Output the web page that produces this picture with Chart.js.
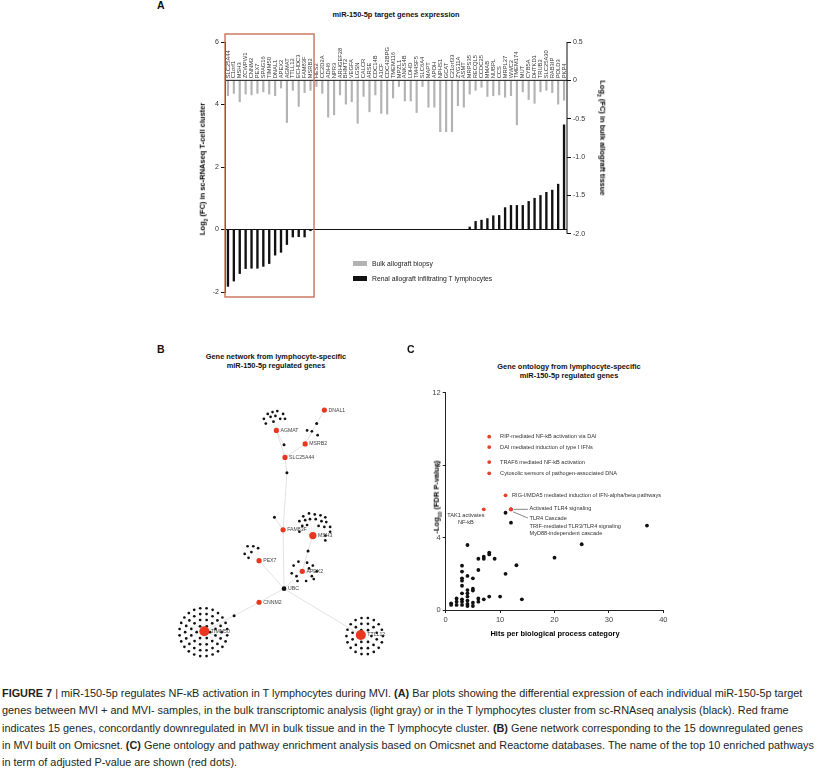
<!DOCTYPE html>
<html>
<head>
<meta charset="utf-8">
<title>Figure 7</title>
<script src="https://cdn.jsdelivr.net/npm/chart.js@4.4.1/dist/chart.umd.min.js"></script>
<style>
  html, body { margin: 0; padding: 0; background: #fff; }
  body { position: relative; width: 831px; height: 769px; overflow: hidden;
         font-family: "Liberation Sans", Arial, sans-serif; color: #222; }
  .abs { position: absolute; }
  .letter { font-weight: bold; font-size: 10.5px; line-height: 10px; color: #111; }
  .ttl { font-weight: bold; font-size: 7.4px; line-height: 9px; text-align: center; color: #111;
         white-space: nowrap; transform: translateX(-50%); }
  .axt { font-weight: bold; font-size: 7.5px; white-space: nowrap; line-height: 9px; color: #000; }
  .leg { font-size: 6.8px; line-height: 8px; white-space: nowrap; }
  .sw { position: absolute; width: 14px; height: 5px; }
  #caption { left: 2px; top: 685px; font-family: "Liberation Sans Narrow", "Liberation Sans", Arial, sans-serif;
             font-size: 11.5px; line-height: 17.3px; white-space: pre; color: #231f20; transform-origin: 0 0; }
</style>
</head>
<body>

<!-- panel A -->
<div class="abs letter" style="left:157px;top:0px">A</div>
<div class="abs ttl" style="left:396px;top:9.5px">miR-150-5p target genes expression</div>
<div class="abs" style="left:195px;top:30px;width:425px;height:280px">
  <canvas id="barChart" width="425" height="280"></canvas>
</div>
<div class="abs axt" style="left:204px;top:169px;transform:translate(-50%,-50%) rotate(-90deg)">Log<sub style="font-size:5px">2</sub> (FC) in sc-RNAseq T-cell cluster</div>
<div class="abs axt" style="left:601px;top:138px;transform:translate(-50%,-50%) rotate(90deg)">Log<sub style="font-size:5px">2</sub> (FC) in bulk allograft tissue</div>
<div class="sw" style="left:353px;top:261px;background:#b3b3b3"></div>
<div class="abs leg" style="left:372px;top:260px">Bulk allograft biopsy</div>
<div class="sw" style="left:353px;top:276px;background:#111"></div>
<div class="abs leg" style="left:372px;top:275px">Renal allograft infiltrating T lymphocytes</div>

<!-- panel B -->
<div class="abs letter" style="left:157px;top:344px">B</div>
<div class="abs ttl" style="left:276px;top:352px">Gene network from lymphocyte-specific<br>miR-150-5p regulated genes</div>
<div class="abs" style="left:160px;top:380px;width:250px;height:290px">
  <canvas id="netChart" width="250" height="290"></canvas>
</div>

<!-- panel C -->
<div class="abs letter" style="left:407px;top:344px">C</div>
<div class="abs ttl" style="left:569px;top:361.5px">Gene ontology from lymphocyte-specific<br>miR-150-5p regulated genes</div>
<div class="abs" style="left:420px;top:380px;width:260px;height:252px">
  <canvas id="goChart" width="260" height="252"></canvas>
</div>
<div class="abs axt" style="left:438px;top:497px;transform:translate(-50%,-50%) rotate(-90deg)">-Log<sub style="font-size:5px">10</sub> (FDR P-value)</div>
<div class="abs axt" style="left:555px;top:633px;transform:translate(-50%,-50%)">Hits per biological process category</div>

<!-- caption -->
<div id="caption" class="abs"><div id="capLine1"><b>FIGURE 7</b> | miR-150-5p regulates NF-κB activation in T lymphocytes during MVI. <b>(A)</b> Bar plots showing the differential expression of each individual miR-150-5p target</div><div>genes between MVI + and MVI- samples, in the bulk transcriptomic analysis (light gray) or in the T lymphocytes cluster from sc-RNAseq analysis (black). Red frame</div><div>indicates 15 genes, concordantly downregulated in MVI in bulk tissue and in the T lymphocyte cluster. <b>(B)</b> Gene network corresponding to the 15 downregulated genes</div><div>in MVI built on Omicsnet. <b>(C)</b> Gene ontology and pathway enrichment analysis based on Omicsnet and Reactome databases. The name of the top 10 enriched pathways</div><div>in term of adjusted P-value are shown (red dots).</div></div>

<script>
// ---------- panel A data ----------
const genes = ['SLC25A44','C1orf1','MSH3','ZCWPW1','CNNM2','PEX7','SPAG16','TIMM50','DNAL1','APEX2',
  'AGMAT','TTLL12','ECHDC3','FAM83F','MSRB2','HES2','CC2D2A','ADH6','NPR3','ARHGEF28',
  'BHMT2','VEGFA','LGSN','CALCR','ARSE','CDC14B','A1CF','CDC42BPG','TMEM116','MPZL1',
  'ANKS4B','LDHD','TM4SF5','SLC6A4','MAPT','APOH','NPHS1','GCAT','C21orf33','ZYG11A',
  'ASMT','MRPS35','RECQL5','CCDC25','MMAB','NUBPL','CCS','MRPL27','WWC2','TMEM174',
  'MUT','CYB5A','DHTKD1','TRUB2','SLC25A30','RAB3IP','POLD3','PKP4'];

// log2 FC in bulk tissue (right axis, gray)
const bulkFC = [-0.20,-0.17,-0.28,-0.18,-0.19,-0.17,-0.15,-0.18,-0.20,-0.10,
  -0.55,-0.13,-0.34,-0.16,-0.13,-0.08,-0.17,-0.48,-0.45,-0.19,
  -0.31,-0.28,-0.56,-0.21,-0.41,-0.19,-0.43,-0.44,-0.23,-0.08,
  -0.27,-0.27,-0.42,-0.08,-0.35,-0.35,-0.67,-0.67,-0.67,-0.33,
  -0.35,-0.18,-0.13,-0.09,-0.21,-0.20,-0.19,-0.22,-0.20,-0.58,
  -0.15,-0.25,-0.30,-0.15,-0.13,-0.16,-0.31,-0.26];

// log2 FC in the sc-RNAseq T-cell cluster (left axis, black)
const scFC = [-1.82,-1.65,-1.41,-1.25,-1.24,-1.24,-1.18,-1.09,-0.82,-0.73,
  -0.48,-0.24,-0.23,-0.24,-0.04, 0,0,0,0,0,
  0,0,0,0,0,0,0,0,0,0,
  0,0,0,0,0,0,0,0,0,0,
  0, 0.08,0.26,0.30,0.35,0.44,0.45,0.70,0.77,0.77,
  0.77,0.90,1.00,1.09,1.19,1.26,1.45,3.35];

const scTicks = [-2, 0, 2, 4, 6];
const bulkTicks = [0.5, 0, -0.5, -1.0, -1.5, -2.0];
const framedCount = 15;

// ---------- panel B data (Omicsnet layout coordinates) ----------
const netGenes   = ['DNAL1','AGMAT','MSRB2','SLC25A44','FAM83F','MSH3','PEX7','APEX2','CNNM2','TIMM50','TTLL12'];
const netGeneX   = [166, 116, 146, 125, 123, 154,  98, 143,  98,  41, 204];
const netGeneY   = [ 26,  47,  61,  75, 150, 156, 182, 193, 225, 255, 259];
const netDegree  = [  2,  11,   4,   4,   3,  20,   6,  12,   2,  60,  36];

const linkNames = ['UBC','L1','L2','L3','L4','L5','L6'];
const linkX     = [124, 127, 124, 158, 114, 149,  72];
const linkY     = [211,  91,  62,  40, 137, 172, 239];

const edges = [['UBC','FAM83F'],['FAM83F','L1'],['L1','SLC25A44'],['SLC25A44','AGMAT'],['AGMAT','L2'],
  ['SLC25A44','MSRB2'],['MSRB2','L3'],['L3','DNAL1'],['UBC','APEX2'],['APEX2','L5'],['L5','MSH3'],
  ['UBC','PEX7'],['UBC','CNNM2'],['CNNM2','L6'],['L6','TIMM50'],['UBC','TTLL12'],['FAM83F','L4']];

const agmatPartners = [[107,30],[112,28],[117,27],[123,30],[103,35],[110,33],[115,32],[120,35],[125,35],[105,40],[113,38]];
const msrb2Partners = [[148,47],[153,48],[159,52]];
const pex7Partners  = [[86,167],[92,167],[97,169],[83,175],[90,173],[87,179]];
const apex2Partners = [[134,187],[139,183],[148,184],[154,187],[132,195],[158,193],[137,198],[153,198],[138,203],[147,203],[155,201],[150,190]];
const msh3Partners  = [[144,136],[150,133],[156,134],[162,135],[167,137],[140,141],[146,140],[151,139],[157,139],[163,141],
  [168,142],[172,147],[143,146],[148,145],[160,146],[166,147],[172,152],[167,156],[167,161],[140,152]];
const timm50Partners = [[47,256],[43.5,262.1],[36.5,262.1],[33,256],[36.5,249.9],[43.5,249.9],
  [52.6,259.4],[49.2,265.2],[43.4,268.6],[36.6,268.6],[30.8,265.2],[27.4,259.4],[27.4,252.6],[30.8,246.8],[36.6,243.4],[43.4,243.4],[49.2,246.8],[52.6,252.6],
  [59,256],[57.9,262.5],[54.6,268.2],[49.5,272.5],[43.3,274.7],[36.7,274.7],[30.5,272.5],[25.4,268.2],[22.1,262.5],[21,256],[22.1,249.5],[25.4,243.8],[30.5,239.5],[36.7,237.3],[43.3,237.3],[49.5,239.5],[54.6,243.8],[57.9,249.5],
  [64.8,259.3],[63.1,265.6],[59.8,271.2],[55.2,275.8],[49.6,279.1],[43.3,280.8],[36.7,280.8],[30.4,279.1],[24.8,275.8],[20.2,271.2],[16.9,265.6],[15.2,259.3],
  [15.2,252.7],[16.9,246.4],[20.2,240.8],[24.8,236.2],[30.4,232.9],[36.7,231.2],[43.3,231.2],[49.6,232.9],[55.2,236.2],[59.8,240.8],[63.1,246.4],[64.8,252.7]];
const ttll12Partners = [[215,260],[211.5,266.1],[204.5,266.1],[201,260],[204.5,253.9],[211.5,253.9],
  [220.6,263.4],[217.2,269.2],[211.4,272.6],[204.6,272.6],[198.8,269.2],[195.4,263.4],[195.4,256.6],[198.8,250.8],[204.6,247.4],[211.4,247.4],[217.2,250.8],[220.6,256.6],
  [227,260],[225.9,266.5],[222.6,272.2],[217.5,276.5],[211.3,278.7],[204.7,278.7],[198.5,276.5],[193.4,272.2],[190.1,266.5],[189,260],[190.1,253.5],[193.4,247.8],[198.5,243.5],[204.7,241.3],[211.3,241.3],[217.5,243.5],[222.6,247.8],[225.9,253.5]];
const partnersOf = { AGMAT: agmatPartners, MSRB2: msrb2Partners, PEX7: pex7Partners, APEX2: apex2Partners,
  MSH3: msh3Partners, TIMM50: timm50Partners, TTLL12: ttll12Partners };

// ---------- panel C data ----------
const goHits = [11,12,37,25,4,3,3,3,3,3,4,5,6,6,7,7,8,8,9,11,13,20,3,4,4,4,5,5,3,2,2,2,1,1,3,3,4,4,4,5,5,6,6,7,8,10,14];
const goLogP = [5.37,4.82,4.66,3.63,3.59,2.45,2.12,1.75,1.62,1.34,1.88,1.75,2.83,2.21,2.94,2.83,3.17,3.07,2.83,2.00,2.47,2.89,
  0.92,1.10,0.92,0.74,1.18,1.07,0.59,0.64,0.46,0.28,0.37,0.28,0.46,0.28,0.52,0.33,0.22,0.40,0.22,0.64,0.46,0.59,0.74,0.74,0.59];
const topPathways = ['RIP-mediated NF-kB activation via DAI','DAI mediated induction of type I IFNs','TRAF6 mediated NF-kB activation',
  'Cytosolic sensors of pathogen-associated DNA','RIG-I/MDA5 mediated induction of IFN-alpha/beta pathways','TAK1 activates NF-kB',
  'Activated TLR4 signaling','TLR4 Cascade','TRIF-mediated TLR3/TLR4 signaling','MyD88-independent cascade'];
const topHits = [8, 8, 8, 8, 11, 7, 12, 12, 12, 12];
const topLogP = [9.57, 9.00, 8.17, 7.55, 6.33, 5.56, 5.56, 5.56, 5.56, 5.56];

// ---------- shared ----------
Chart.defaults.font.family = '"Liberation Sans", Arial, sans-serif';
Chart.defaults.color = '#333';
const FONT = '"Liberation Sans", Arial, sans-serif';

// ===== panel A =====
const barDecor = {
  id: 'barDecor',
  afterDatasetsDraw(chart) {
    const { ctx, chartArea: ca, scales: { x, y, y2 } } = chart;
    ctx.save();
    ctx.strokeStyle = '#111';
    ctx.lineWidth = 1;
    [y.getPixelForValue(0), y2.getPixelForValue(0)].forEach(py => {
      ctx.beginPath(); ctx.moveTo(ca.left, py); ctx.lineTo(ca.right, py); ctx.stroke();
    });
    // right spine only over the labelled range
    ctx.beginPath();
    ctx.moveTo(ca.right, y2.getPixelForValue(bulkTicks[0]));
    ctx.lineTo(ca.right, y2.getPixelForValue(bulkTicks[bulkTicks.length - 1]));
    ctx.stroke();

    // gene names standing on the bulk zero line
    ctx.fillStyle = '#333';
    ctx.font = '5.8px ' + FONT;
    ctx.textAlign = 'left';
    ctx.textBaseline = 'middle';
    const base = y2.getPixelForValue(0) - 2;
    genes.forEach((g, i) => {
      ctx.save();
      ctx.translate(x.getPixelForValue(i), base);
      ctx.rotate(-Math.PI / 2);
      ctx.fillText(g, 0, 0);
      ctx.restore();
    });

    // red frame around the concordant genes
    const step = x.getPixelForValue(1) - x.getPixelForValue(0);
    const left = x.getPixelForValue(0) - step / 2;
    const right = x.getPixelForValue(framedCount - 1) + step * 0.6;
    const top = y.getPixelForValue(6) - 8;
    const bottom = y.getPixelForValue(-2) + 5;
    ctx.strokeStyle = '#c8705a';
    ctx.lineWidth = 1.4;
    ctx.strokeRect(left, top, right - left, bottom - top);
    ctx.restore();
  }
};

new Chart(document.getElementById('barChart'), {
  type: 'bar',
  data: {
    labels: genes,
    datasets: [
      { label: 'Bulk allograft biopsy', data: bulkFC, yAxisID: 'y2', backgroundColor: '#b3b3b3', barThickness: 1.5, grouped: false },
      { label: 'Renal allograft infiltrating T lymphocytes', data: scFC, yAxisID: 'y', backgroundColor: '#111', barThickness: 1.7, grouped: false }
    ]
  },
  options: {
    responsive: false,
    animation: false,
    layout: { padding: { top: 12, bottom: 18, left: 0, right: 0 } },
    plugins: { legend: { display: false }, tooltip: { enabled: false } },
    scales: {
      x: { display: false, offset: true },
      y: {
        position: 'left', min: -2, max: 6,
        afterBuildTicks: s => { s.ticks = scTicks.map(v => ({ value: v })); },
        afterFit: s => { s.width = 30; },
        grid: { drawOnChartArea: false, drawTicks: true, tickLength: 4, color: '#111' },
        border: { display: true, color: '#111', width: 1 },
        ticks: { font: { size: 7 }, padding: 2, color: '#333' }
      },
      y2: {
        position: 'right', min: -2.76, max: 0.5,
        afterBuildTicks: s => { s.ticks = bulkTicks.map(v => ({ value: v })); },
        afterFit: s => { s.width = 53; },
        grid: { drawOnChartArea: false, drawTicks: true, tickLength: 4, color: '#111' },
        border: { display: false },
        ticks: { font: { size: 7 }, padding: 2, color: '#333', callback: v => v === 0 ? '0' : v.toFixed(1) }
      }
    }
  },
  plugins: [barDecor]
});

// ===== panel B =====
const nodePos = {};
netGenes.forEach((g, i) => { nodePos[g] = { x: netGeneX[i], y: netGeneY[i] }; });
linkNames.forEach((n, i) => { nodePos[n] = { x: linkX[i], y: linkY[i] }; });

const gap = { x: 0, y: null };
const edgePts = [];
edges.forEach(([a, b]) => { edgePts.push(nodePos[a], nodePos[b], gap); });
const spokePts = [];
const partnerPts = [];
Object.keys(partnersOf).forEach(hub => {
  partnersOf[hub].forEach(([px, py]) => {
    partnerPts.push({ x: px, y: py });
    spokePts.push(nodePos[hub], { x: px, y: py }, gap);
  });
});
const geneRadius = d => d >= 30 ? 5 : d >= 15 ? 3.6 : 2.6;

const netLabels = {
  id: 'netLabels',
  afterDatasetsDraw(chart) {
    const { ctx, scales: { x, y } } = chart;
    ctx.save();
    ctx.font = '5.2px ' + FONT;
    ctx.fillStyle = '#444';
    ctx.textAlign = 'left';
    ctx.textBaseline = 'middle';
    netGenes.forEach((g, i) => {
      ctx.fillText(g, x.getPixelForValue(netGeneX[i]) + geneRadius(netDegree[i]) + 1.5, y.getPixelForValue(netGeneY[i]));
    });
    ctx.fillText('UBC', x.getPixelForValue(linkX[0]) + 4, y.getPixelForValue(linkY[0]));
    ctx.restore();
  }
};

new Chart(document.getElementById('netChart'), {
  type: 'scatter',
  data: {
    datasets: [
      { label: 'genes', data: netGenes.map((g, i) => ({ x: netGeneX[i], y: netGeneY[i] })),
        backgroundColor: '#e8371e', borderWidth: 0, pointRadius: netDegree.map(geneRadius), order: 1 },
      { label: 'linkers', data: linkNames.map((n, i) => ({ x: linkX[i], y: linkY[i] })),
        backgroundColor: '#111', borderWidth: 0, pointRadius: linkNames.map(n => n === 'UBC' ? 2.4 : 1.5), order: 2 },
      { label: 'partners', data: partnerPts, backgroundColor: '#111', borderWidth: 0, pointRadius: 1.35, order: 2 },
      { label: 'edges', data: edgePts, showLine: true, spanGaps: false, borderColor: '#e2e2e2', borderWidth: 1, pointRadius: 0, order: 3 },
      { label: 'spokes', data: spokePts, showLine: true, spanGaps: false, borderColor: '#f1f1f1', borderWidth: 0.6, pointRadius: 0, order: 4 }
    ]
  },
  options: {
    responsive: false,
    animation: false,
    layout: { padding: 0 },
    plugins: { legend: { display: false }, tooltip: { enabled: false } },
    scales: {
      x: { type: 'linear', min: 0, max: 250, display: false },
      y: { type: 'linear', min: 0, max: 290, reverse: true, display: false }
    }
  },
  plugins: [netLabels]
});

// ===== panel C =====
const pathwayNotes = [
  { text: topPathways[0], at: [10, 9.57] },
  { text: topPathways[1], at: [10, 9.00] },
  { text: topPathways[2], at: [10, 8.17] },
  { text: topPathways[3], at: [10, 7.55] },
  { text: topPathways[4], at: [12.2, 6.33] },
  { text: 'TAK1 activates', at: [3.7, 5.21], align: 'center' },
  { text: 'NF-kB', at: [3.7, 4.85], align: 'center' },
  { text: topPathways[6], at: [15.4, 5.62] },
  { text: topPathways[7], at: [15.4, 5.03] },
  { text: topPathways[8], at: [15.4, 4.60] },
  { text: topPathways[9], at: [15.4, 4.24] }
];
const noteLines = [[[12.5, 5.56], [15.1, 5.56]], [[12.4, 5.42], [15.1, 5.08]]];

const goNotes = {
  id: 'goNotes',
  afterDatasetsDraw(chart) {
    const { ctx, scales: { x, y } } = chart;
    ctx.save();
    ctx.strokeStyle = '#333';
    ctx.lineWidth = 0.6;
    noteLines.forEach(([a, b]) => {
      ctx.beginPath();
      ctx.moveTo(x.getPixelForValue(a[0]), y.getPixelForValue(a[1]));
      ctx.lineTo(x.getPixelForValue(b[0]), y.getPixelForValue(b[1]));
      ctx.stroke();
    });
    ctx.font = '5.6px ' + FONT;
    ctx.fillStyle = '#333';
    ctx.textBaseline = 'middle';
    pathwayNotes.forEach(n => {
      ctx.textAlign = n.align || 'left';
      ctx.fillText(n.text, x.getPixelForValue(n.at[0]), y.getPixelForValue(n.at[1]));
    });
    ctx.restore();
  }
};

new Chart(document.getElementById('goChart'), {
  type: 'scatter',
  data: {
    datasets: [
      { label: 'Top 10 pathways', data: topHits.map((h, i) => ({ x: h, y: topLogP[i] })),
        backgroundColor: '#e3412b', borderWidth: 0, pointRadius: 1.9, order: 1 },
      { label: 'Other pathways', data: goHits.map((h, i) => ({ x: h, y: goLogP[i] })),
        backgroundColor: '#111', borderWidth: 0, pointRadius: 1.9, order: 2 }
    ]
  },
  options: {
    responsive: false,
    animation: false,
    layout: { padding: { top: 12.7, right: 16.7, left: 0, bottom: 0 } },
    plugins: { legend: { display: false }, tooltip: { enabled: false } },
    scales: {
      x: {
        type: 'linear', min: 0, max: 40,
        afterFit: s => { s.height = 22; },
        grid: { drawOnChartArea: false, drawTicks: true, tickLength: 3, color: '#222' },
        border: { color: '#222', width: 1 },
        ticks: { stepSize: 10, font: { size: 7.5 }, padding: 2, color: '#444', maxRotation: 0 }
      },
      y: {
        type: 'linear', min: 0, max: 12,
        afterFit: s => { s.width = 25.7; },
        grid: { drawOnChartArea: false, drawTicks: true, tickLength: 3, color: '#222' },
        border: { color: '#222', width: 1 },
        ticks: { stepSize: 4, font: { size: 7.5 }, padding: 2, color: '#444' }
      }
    }
  },
  plugins: [goNotes]
});

// caption: squeeze lines to the printed width
const cap = document.getElementById('caption');
const w1 = document.getElementById('capLine1').scrollWidth;
cap.style.transform = 'scaleX(' + (812 / w1) + ')';
</script>
</body>
</html>
